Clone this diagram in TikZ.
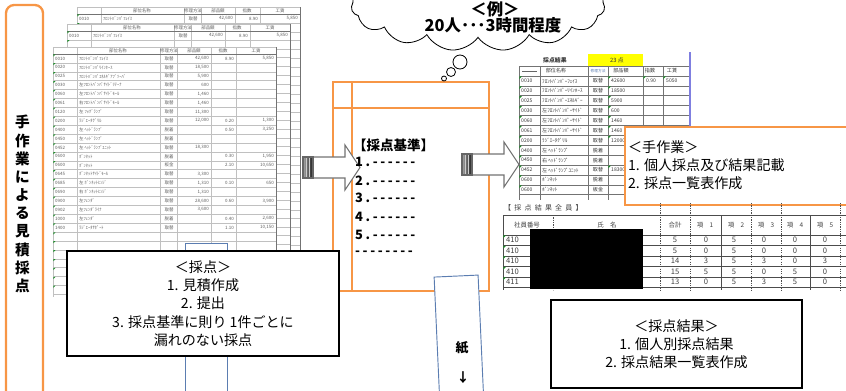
\documentclass[tikz,border=0pt]{standalone}
\usepackage{fontspec}
\setmainfont{Noto Sans CJK JP}
\usetikzlibrary{shapes.symbols,positioning}
\definecolor{docOrange}{HTML}{F79646}
\definecolor{selBlue}{HTML}{5B7DB1}
\definecolor{gridGray}{HTML}{C0C0C0}
\definecolor{cellText}{HTML}{606060}
\definecolor{markGreen}{HTML}{1E8C2A}
\definecolor{hiYellow}{HTML}{FFFF00}
\definecolor{pageBlue}{HTML}{7F7FE0}

\tikzset{
  sheetgrid/.style={draw=gridGray,line width=0.35pt},
  sheettext/.style={font=\fontsize{3.8}{4}\selectfont,text=cellText,inner sep=0pt},
  greenmark/.style={fill=markGreen},
  % one copy of the estimate sheet, 223 x 250; #1 = rows with text
  pics/estsheet/.style={code={
    \fill[white] (0,0) rectangle (223,250);
    \foreach \r in {0,...,27}
      \draw[sheetgrid] (0,{7+\r*8.9}) -- (223,{7+\r*8.9});
    \foreach \c in {0,24,107,124,158,183}
      \draw[sheetgrid] (\c,0) -- (\c,250);
    \draw[sheetgrid] (0,0) -- (223,0);
    \draw[black!55,line width=0.6pt] (0,7) -- (223,7);
    \draw[black!55,line width=0.8pt] (223,0) -- (223,250);
    \foreach \lab/\lx in {部位名称/65,修理方法/116,部品額/141,指数/170,工賃/203}
      \node[sheettext] at (\lx,3.5) {\lab};
    \foreach \code/\part/\meth/\price/\idx/\wage [count=\i] in {
      0010/ﾌﾛﾝﾄﾊﾞﾝﾊﾟﾌｪｲｽ/取替/{42,600}/8.90/{5,850},
      0020/ﾌﾛﾝﾄﾊﾞﾝﾊﾟﾘｲﾝﾎｰｽ/取替/{18,500}//,
      0025/ﾌﾛﾝﾄﾊﾞﾝﾊﾟｴﾈﾙｷﾞｱﾌﾞｿｰﾊﾞ/取替/{5,900}//,
      0030/左ﾌﾛﾝﾄﾊﾞﾝﾊﾟｻｲﾄﾞﾘﾃｰﾅ/取替/600//,
      0060/左ﾌﾛﾝﾄﾊﾞﾝﾊﾟｻｲﾄﾞﾓｰﾙ/取替/{1,460}//,
      0061/右ﾌﾛﾝﾄﾊﾞﾝﾊﾟｻｲﾄﾞﾓｰﾙ/取替/{1,460}//,
      0120/左 ﾌｫｸﾞﾗﾝﾌﾟ/取替/{11,300}//,
      0200/ﾗｼﾞｴｰﾀｸﾞﾘﾙ/取替/{12,000}/0.20/{1,300},
      0400/左 ﾍｯﾄﾞﾗﾝﾌﾟ/脱着//0.50/{3,250},
      0450/左 ﾍｯﾄﾞﾗﾝﾌﾟ/脱着//,
      0452/左 ﾍｯﾄﾞﾗﾝﾌﾟﾕﾆｯﾄ/取替/{18,300}//,
      0600/ﾎﾞﾝﾈｯﾄ/脱着//0.30/{1,950},
      0600/ﾎﾞﾝﾈｯﾄ/板金//2.10/{10,650},
      0645/ﾎﾞﾝﾈｯﾄｻｲﾄﾞﾓｰﾙ/取替/{3,300}//,
      0685/左 ﾎﾞﾝﾈｯﾄﾋﾝｼﾞ/取替/{1,310}/0.10/650,
      0690/右 ﾎﾞﾝﾈｯﾄﾋﾝｼﾞ/取替/{1,310}//,
      0900/左ﾌｪﾝﾀﾞ/取替/{28,600}/0.60/{3,900},
      0902/左ﾌｪﾝﾀﾞﾗｲﾅ/取替/{3,600}//,
      1000/左ﾌｪﾝﾀﾞ/脱着//0.40/{2,600},
      1400/ﾗｼﾞｴｰﾀｻﾎﾟｰﾄ/取替//1.10/{10,150}}{
      \fill[greenmark] (0.3,{7.3+(\i-1)*8.9}) -- ++(2.2,0) -- ++(-2.2,2.2) -- cycle;
      \ifnum\i>#1\relax\else
      \node[sheettext,anchor=west] at (2,{7+(\i-0.5)*8.9}) {\code};
      \node[sheettext,anchor=west] at (26,{7+(\i-0.5)*8.9}) {\part};
      \node[sheettext] at (116,{7+(\i-0.5)*8.9}) {\meth};
      \node[sheettext,anchor=east] at (156,{7+(\i-0.5)*8.9}) {\price};
      \node[sheettext,anchor=east] at (181,{7+(\i-0.5)*8.9}) {\idx};
      \node[sheettext,anchor=east] at (221,{7+(\i-0.5)*8.9}) {\wage};
      \fi
    }
    \foreach \i in {21,...,27}
      \fill[greenmark] (0.3,{7.3+(\i-1)*8.9}) -- ++(2.2,0) -- ++(-2.2,2.2) -- cycle;
  }},
  % block arrow with a striped tail, 57 long
  pics/stepArrow/.style={code={
    \fill[white,draw=black!55,line width=0.9pt] (10,-10.5) -- (42,-10.5) -- (42,-22.5)
      -- (57,0) -- (42,22.5) -- (42,10.5) -- (10,10.5) -- cycle;
    \shade[left color=black!35,right color=black!90] (0,-10.5) rectangle (10,10.5);
    \draw[white!80!black,line width=0.7pt] (3.3,-10.5) -- (3.3,10.5) (6.7,-10.5) -- (6.7,10.5);
    \draw[black!60,line width=0.9pt] (0,-10.5) rectangle (10,10.5);
  }},
}

\begin{document}
\begin{tikzpicture}[x=0.03cm,y=-0.03cm,
  notebox/.style={draw,line width=1.1pt,fill=white,align=center,font=\fontsize{12}{15.6}\selectfont},
  restext/.style={font=\fontsize{5.5}{6}\selectfont,text=black!75,inner sep=0pt},
  smalltext/.style={font=\fontsize{4.3}{5}\selectfont,text=black!80,inner sep=0pt},
  stdline/.style={font=\bfseries\fontsize{11}{12}\selectfont\addfontfeature{LetterSpace=20},anchor=west,inner sep=0pt},
  resline/.style={draw=black!70,line width=0.6pt},
  resdot/.style={draw=black!70,line width=0.6pt,dash pattern=on 1pt off 1pt}]
\useasboundingbox (0,0) rectangle (846,390);
\clip (0,0) rectangle (846,390);

% stacked estimate sheets
\pic (sheetA) at (77,7) {estsheet=1};
\pic (sheetB) at (67,24) {estsheet=1};
\pic (sheetC) at (53,47) {estsheet=20};

% scoring standard document
\draw[docOrange,line width=2pt,fill=white] (333,82) rectangle (489,291);
\draw[docOrange,line width=2pt] (352,82) -- (352,291) (333,108) -- (489,108);
\pic (arrowIn) at (303,167.5) {stepArrow};
\node[font=\bfseries\fontsize{11.5}{12}\selectfont,anchor=west,inner sep=0pt] (stdTitle) at (353,145) {【採点基準】};
\foreach \n/\ly in {1/162,2/181,3/198,4/217,5/235}
  \node[stdline] (std\n) at (355,\ly) {\n.-{}-{}-{}-{}-{}-};
\node[stdline] (stdMore) at (355,253) {-{}-{}-{}-{}-{}-{}-{}-};

% selected cell and scoring note
\draw[selBlue,line width=0.8pt,fill=white] (185,243) rectangle (227,400);
\node[notebox,minimum width=8.16cm,minimum height=3.15cm] (scoring) at (203,303.5)
  {＜採点＞\\1. 見積作成\\2. 提出\\3. 採点基準に則り 1件ごとに\\漏れのない採点};

% example cloud
\node[cloud,cloud puffs=15,cloud puff arc=115,aspect=3,draw,fill=white,line width=0.7pt,
  minimum width=7.6cm,minimum height=2.7cm] (cloudEx) at (478,6) {};
\draw[line width=0.7pt,fill=white] (460,62) circle[radius=7] (451,72) circle[radius=4.5]
  (444,78.5) circle[radius=2.5];
\node[font=\bfseries\fontsize{14}{15}\selectfont] (exTitle) at (495,9) {＜例＞};
\node[font=\bfseries\fontsize{14}{15}\selectfont] (exTime) at (493,25) {20人･･･3時間程度};

% one person's result sheet
\node[smalltext,font=\bfseries\fontsize{5}{6}\selectfont,anchor=west] (resTitle) at (543,60) {採点結果};
\fill[hiYellow] (588,54) rectangle (643,66);
\node[smalltext,font=\fontsize{5}{6}\selectfont] (resScore) at (617,60) {23 点};
\foreach \r in {0,...,13}
  \draw[black!55,line width=0.5pt] (519,{66+\r*9.9}) -- (690,{66+\r*9.9});
\foreach \c in {519,540,588,608,643,663}
  \draw[black!55,line width=0.5pt] (\c,66) -- (\c,200);
\draw[pageBlue,line width=0.9pt] (690,52) -- (690,130);
\foreach \lab/\lx in {部位名称/556,部品額/621,指数/650,工賃/672}
  \node[smalltext] at (\lx,71) {\lab};
\node[smalltext,text=selBlue,font=\fontsize{3.2}{4}\selectfont] at (598,71) {修理方法};
\draw[black!60,line width=0.5pt] (522,71) -- (537,71);
\foreach \code/\part/\meth/\price [count=\i] in {
  0010/ﾌﾛﾝﾄﾊﾞﾝﾊﾟｰﾌｪｲｽ/取替/42600, 0020/ﾌﾛﾝﾄﾊﾞﾝﾊﾟｰﾘｲﾝﾎｰｽ/取替/18500,
  0025/ﾌﾛﾝﾄﾊﾞﾝﾊﾟｰｴﾈﾙｷﾞｰ/取替/5900, 0030/左ﾌﾛﾝﾄﾊﾞﾝﾊﾟｰｻｲﾄﾞ/取替/600,
  0060/左ﾌﾛﾝﾄﾊﾞﾝﾊﾟｰｻｲﾄﾞ/取替/1460, 0061/左ﾌﾛﾝﾄﾊﾞﾝﾊﾟｰｻｲﾄﾞ/取替/1460,
  0200/ﾗｼﾞｴｰﾀｸﾞﾘﾙ/取替/12000, 0400/左 ﾍｯﾄﾞﾗﾝﾌﾟ/脱着/, 0450/右 ﾍｯﾄﾞﾗﾝﾌﾟ/脱着/,
  0452/左 ﾍｯﾄﾞﾗﾝﾌﾟﾕﾆｯﾄ/取替/18300, 0600/ﾎﾞﾝﾈｯﾄ/脱着/, 0600/ﾎﾞﾝﾈｯﾄ/板金/}{
  \fill[greenmark] (519.4,{76.4+(\i-1)*9.9}) -- ++(2.6,0) -- ++(-2.6,2.6) -- cycle;
  \node[smalltext,anchor=west] at (521,{76+(\i-0.5)*9.9}) {\code};
  \node[smalltext,anchor=west] at (542,{76+(\i-0.5)*9.9}) {\part};
  \node[smalltext] at (598,{76+(\i-0.5)*9.9}) {\meth};
  \node[smalltext,anchor=west] at (611,{76+(\i-0.5)*9.9}) {\price};
}
\foreach \i in {1,...,7,10}
  \fill[greenmark] (608.4,{76.4+(\i-1)*9.9}) -- ++(2.6,0) -- ++(-2.6,2.6) -- cycle;
\fill[greenmark] (643.4,76.4) -- ++(2.6,0) -- ++(-2.6,2.6) -- cycle;
\fill[greenmark] (663.4,76.4) -- ++(2.6,0) -- ++(-2.6,2.6) -- cycle;
\node[smalltext,anchor=west] at (646,81) {0.90};
\node[smalltext,anchor=west] at (666,81) {5050};
\pic (arrowOut) at (462,164.5) {stepArrow};

% manual work note
\node[draw=docOrange,line width=2pt,fill=white,anchor=north west,minimum width=7.2cm,
  minimum height=2.34cm] (manual) at (624,126) {};
\node[align=left,anchor=west,font=\fontsize{12}{15.3}\selectfont] (manualText) at (624,165)
  {＜手作業＞\\1. 個人採点及び結果記載\\2. 採点一覧表作成};

% all members' results
\node[restext,font=\fontsize{6}{7}\selectfont\addfontfeature{LetterSpace=45},anchor=west] (allTitle) at (504,208) {【採点結果全員】};
\foreach \ly in {215,235,245.5,256,266.5,277,287.5}
  \draw[resline] (503,\ly) -- (846,\ly);
\foreach \lx in {503,721,810}
  \draw[resline] (\lx,215) -- (\lx,290);
\draw[resdot] (553,215) -- (553,290);
\foreach \lx in {660,690,751,781,840}
  \draw[resdot] (\lx,203) -- (\lx,290);
\foreach \lab/\lx in {社員番号/527,氏　名/607,合計/675,項　1/705,項　2/736,項　3/766,項　4/795,項　5/825}
  \node[restext] at (\lx,225) {\lab};
\foreach \code/\tot/\qa/\qb/\qc/\qd/\qe [count=\i] in
  {410/5/0/5/0/0/0, 410/5/0/5/0/0/0, 410/14/3/5/3/0/3, 410/15/5/5/0/5/0, 411/13/0/5/3/5/0}{
  \fill[greenmark] (503.4,{235.4+(\i-1)*10.5}) -- ++(2.6,0) -- ++(-2.6,2.6) -- cycle;
  \node[restext,font=\fontsize{6.5}{7}\selectfont,anchor=west] at (506,{235+(\i-0.5)*10.5}) {\code};
  \foreach \v/\lx in {\tot/675,\qa/706,\qb/734,\qc/764,\qd/795,\qe/825}
    \node[restext,font=\fontsize{6.5}{7}\selectfont] at (\lx,{235+(\i-0.5)*10.5}) {\v};
}
\fill[black] (530,229) rectangle (643,289);

% result note
\node[notebox,minimum width=7.53cm,minimum height=2.64cm] (result) at (676.5,344)
  {＜採点結果＞\\1. 個人別採点結果\\2. 採点結果一覧表作成};

% paper slip
\node[draw=selBlue,line width=0.8pt,fill=white,rotate=2.6,minimum width=1.32cm,
  minimum height=4.5cm] (paper) at (459.5,351) {};
\node[font=\bfseries\fontsize{11}{12}\selectfont] (paperText) at (462,348) {紙};
\node[font=\bfseries\fontsize{11}{12}\selectfont] (paperArrow) at (463,378) {↓};

% side title
\draw[docOrange,line width=2pt,rounded corners=7pt] (6,5) rectangle (43,420);
\node[align=center,font=\bfseries\fontsize{12.5}{15.5}\selectfont] (sideTitle) at (22.5,204)
  {手\\作\\業\\に\\よ\\る\\見\\積\\採\\点};
\end{tikzpicture}
\end{document}
